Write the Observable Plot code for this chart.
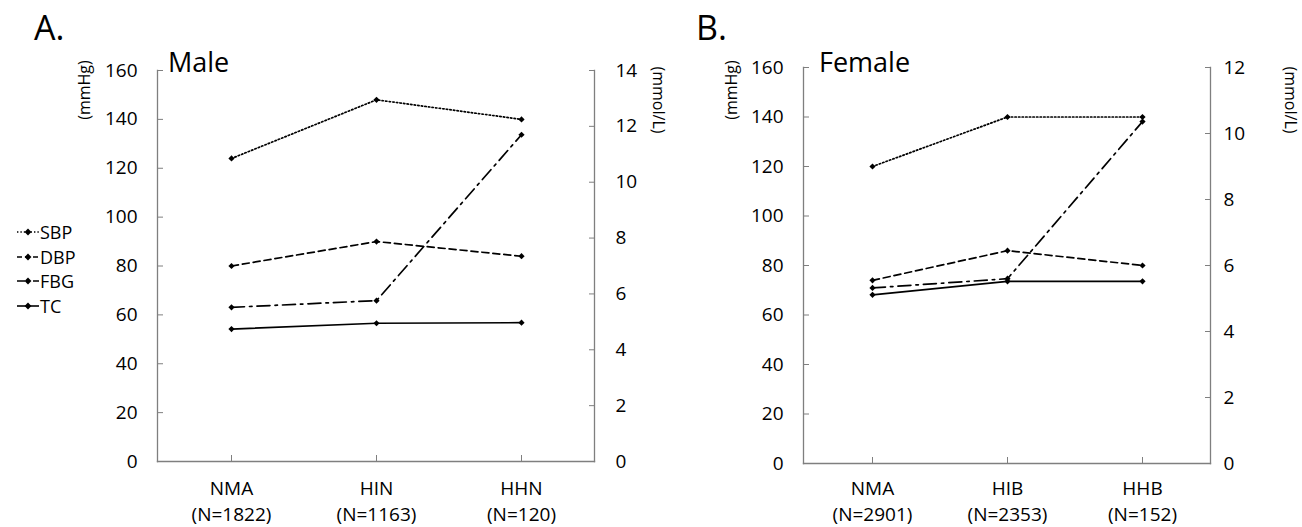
<!DOCTYPE html>
<html><head><meta charset="utf-8">
<script src="https://cdn.jsdelivr.net/npm/d3@7"></script>
<script src="https://cdn.jsdelivr.net/npm/@observablehq/plot@0.6"></script>
<style>
html,body{margin:0;padding:0;background:#fff;}
#root{position:relative;width:1302px;height:527px;overflow:hidden;font-family:"Open Sans",Lato,sans-serif;color:#000;}
.abs{position:absolute;white-space:nowrap;line-height:1;}
.panel{position:absolute;top:0;}
.letter{font-size:34px;}
.title{font-size:27px;}
.unit{font-size:16px;}
.leg{font-size:18px;display:flex;align-items:center;height:24.5px;}
</style></head><body><div id="root"></div>
<script>
// ---------- data ----------
const seriesNames = ["SBP", "DBP", "FBG", "TC"];
const seriesUnits = ["mmHg", "mmHg", "mmol/L", "mmol/L"];

const catsA = ["NMA", "HIN", "HHN"];
const countsA = [1822, 1163, 120];
const sbpA = [124, 148, 140];
const dbpA = [80, 90, 84];
const fbgA = [5.52, 5.76, 11.7];
const tcA = [4.74, 4.95, 4.97];

const catsB = ["NMA", "HIB", "HHB"];
const countsB = [2901, 2353, 152];
const sbpB = [120, 140, 140];
const dbpB = [74, 86, 80];
const fbgB = [5.32, 5.6, 10.36];
const tcB = [5.11, 5.52, 5.52];

const leftTicks = [0, 20, 40, 60, 80, 100, 120, 140, 160];
const rightTicksA = [0, 2, 4, 6, 8, 10, 12, 14];
const rightTicksB = [0, 2, 4, 6, 8, 10, 12];

const panelLetters = ["A.", "B."];
const panelTitles = ["Male", "Female"];
const leftUnitLabel = "(mmHg)";
const rightUnitLabel = "(mmol/L)";

// ---------- styles ----------
const dash = {SBP: "1.4,2.2", DBP: "7,4", FBG: "13,5,2.5,5", TC: null};
const FONT = "'Open Sans', Lato, sans-serif";
const AXIS = "#7f7f7f";

function makePanel(cats, counts, series, rightTicks, m) {
  const leftMax = leftTicks[leftTicks.length - 1];
  const rightMax = rightTicks[rightTicks.length - 1];
  const k = leftMax / rightMax;
  const marks = [
    Plot.frame({anchor: "left", stroke: AXIS, strokeWidth: 1.3}),
    Plot.frame({anchor: "right", stroke: AXIS, strokeWidth: 1.3}),
    Plot.frame({anchor: "bottom", stroke: AXIS, strokeWidth: 1.3}),
    Plot.axisY(leftTicks, {anchor: "left", tickSize: -6, tickPadding: 26, stroke: AXIS, fill: "#000", label: null}),
    Plot.axisY(rightTicks.map(v => v * k), {anchor: "right", tickSize: -6, tickPadding: m.rightPad, stroke: AXIS, fill: "#000", label: null,
      tickFormat: d => String(Math.round(d / k))}),
    Plot.axisX(cats, {anchor: "bottom", tickSize: -6, tickPadding: m.xPad1, stroke: AXIS, fill: "#000", label: null,
      fontSize: 19, tickFormat: d => d}),
    Plot.axisX(cats, {anchor: "bottom", tickSize: 0, tickPadding: m.xPad2, fill: "#000", label: null,
      fontSize: 19, tickFormat: d => `(N=${counts[cats.indexOf(d)]})`})
  ];
  seriesNames.forEach((name, si) => {
    const scale = seriesUnits[si] === "mmHg" ? 1 : k;
    const rows = cats.map((c, i) => ({cat: c, v: series[si][i] * scale}));
    marks.push(Plot.line(rows, {x: "cat", y: "v", stroke: "#000", strokeWidth: 1.7,
      strokeDasharray: dash[name], curve: "linear"}));
    marks.push(Plot.dot(rows, {x: "cat", y: "v", symbol: "diamond2", r: 2.8, fill: "#000", stroke: "none"}));
  });
  return Plot.plot({
    width: m.width, height: 527,
    marginLeft: m.left, marginRight: m.right, marginTop: m.top, marginBottom: m.bottom,
    style: {fontFamily: FONT, fontSize: "19px", background: "transparent", color: "#000", overflow: "visible"},
    x: {type: "point", domain: cats, padding: 0.5, axis: null},
    y: {domain: [0, leftMax], axis: null},
    marks
  });
}

const root = document.getElementById("root");
function addDiv(html, cls, css) {
  const d = document.createElement("div");
  d.className = "abs " + cls;
  d.innerHTML = html;
  Object.assign(d.style, css);
  root.appendChild(d);
  return d;
}

const pA = makePanel(catsA, countsA, [sbpA, dbpA, fbgA, tcA], rightTicksA,
  {width: 651, left: 157, right: 57, top: 70, bottom: 66, rightPad: 27, xPad1: 26, xPad2: 46});
pA.classList.add("panel"); pA.style.left = "0px";
root.appendChild(pA);
const pB = makePanel(catsB, countsB, [sbpB, dbpB, fbgB, tcB], rightTicksB,
  {width: 651, left: 152, right: 92, top: 67, bottom: 64, rightPad: 19, xPad1: 24, xPad2: 44});
pB.classList.add("panel"); pB.style.left = "651px";
root.appendChild(pB);

// panel letters and titles
addDiv(panelLetters[0], "letter", {left: "34px", top: "10px"});
addDiv(panelLetters[1], "letter", {left: "696px", top: "10px"});
addDiv(panelTitles[0], "title", {left: "168px", top: "48px"});
addDiv(panelTitles[1], "title", {left: "819px", top: "48px"});

// unit labels
function unit(text, cx, cy, rot) {
  return addDiv(text, "unit", {left: cx + "px", top: cy + "px", transform: `translate(-50%,-50%) rotate(${rot}deg)`});
}
unit(leftUnitLabel, 84, 90, -90);
unit(rightUnitLabel, 659, 100, 90);
unit(leftUnitLabel, 731, 90, -90);
unit(rightUnitLabel, 1291, 100, 90);

// legend
const legend = document.createElement("div");
legend.className = "abs";
Object.assign(legend.style, {left: "16px", top: "220px"});
seriesNames.forEach(name => {
  const row = document.createElement("div");
  row.className = "leg";
  const svg = d3.create("svg").attr("width", 24).attr("height", 12).style("margin-right", "0px");
  svg.append("line").attr("x1", 1).attr("x2", 23).attr("y1", 6).attr("y2", 6)
    .attr("stroke", "#000").attr("stroke-width", 1.6)
    .attr("stroke-dasharray", name === "SBP" ? "1.4,2" : name === "DBP" ? "5,3" : name === "FBG" ? "8,3,2,3" : null);
  svg.append("path").attr("d", d3.symbol(d3.symbolDiamond2, 30)()).attr("transform", "translate(12,6)").attr("fill", "#000");
  row.appendChild(svg.node());
  const t = document.createElement("span");
  t.textContent = name;
  row.appendChild(t);
  legend.appendChild(row);
});
root.appendChild(legend);
</script>
</body></html>
